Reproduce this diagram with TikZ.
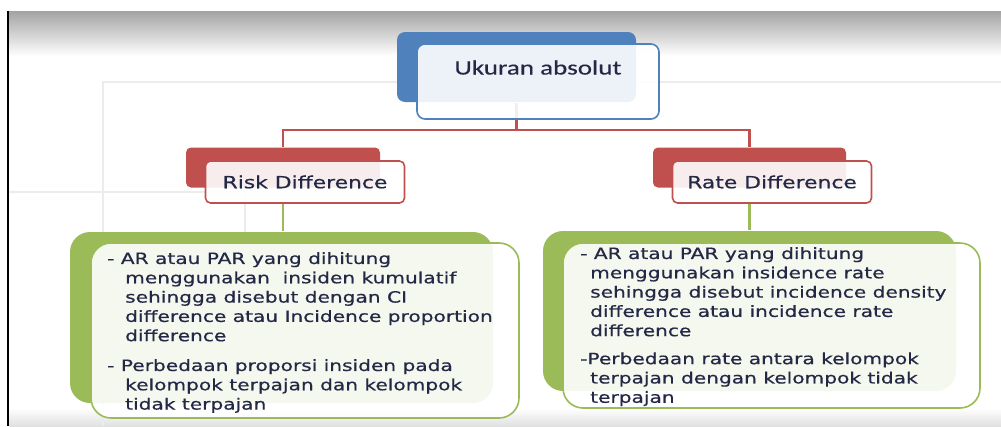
\documentclass[tikz,border=0pt]{standalone}
\usepackage{fontspec}
\newfontfamily\bodyfont[FakeStretch=1.3, FakeBold=0.5]{DejaVu Sans}
\newfontfamily\titlefont[FakeStretch=1.32, FakeBold=0.4]{Carlito}
\usepackage{xcolor}
\definecolor{oblue}{RGB}{79,129,189}
\definecolor{ored}{RGB}{192,80,77}
\definecolor{ogreen}{RGB}{155,187,89}
\definecolor{otext}{RGB}{35,40,70}
\definecolor{ogrid}{RGB}{236,236,236}
\usepackage{tikz}
\usetikzlibrary{positioning}

\newcommand{\hangL}{\hspace*{18pt}}
\newcommand{\hangR}{\hspace*{10pt}}

\begin{document}
\begin{tikzpicture}[x=1pt, y=-1pt,
    box/.style={inner sep=0pt, line width=1.6pt},
    backbox/.style={box, draw=none},
    frontbox/.style={box, fill=white, fill opacity=.9, text opacity=1},
    blueback/.style={backbox, fill=oblue, rounded corners=8pt},
    bluefront/.style={frontbox, draw=oblue, rounded corners=8pt, text=otext, font=\titlefont\fontsize{20.5}{24}\selectfont},
    redback/.style={backbox, fill=ored, rounded corners=5pt, minimum width=194pt, minimum height=40pt},
    redfront/.style={frontbox, draw=ored, rounded corners=5pt, minimum width=199pt, minimum height=42pt, text=otext, font=\bodyfont\fontsize{16.8}{20}\selectfont},
    greenback/.style={backbox, fill=ogreen, rounded corners=20pt},
    greenfront/.style={frontbox, draw=ogreen, rounded corners=20pt},
    notetext/.style={inner sep=0pt, anchor=north west, align=left, text=otext, font=\bodyfont\fontsize{15.5}{19.3}\selectfont},
    redlink/.style={draw=ored, line width=2.2pt},
    greenlink/.style={draw=ogreen, line width=2.6pt},
]
\useasboundingbox (0,0) rectangle (1001,426);
\fill[white] (0,0) rectangle (1001,426);

% screenshot frame and faint grid behind the chart
\fill[top color=black!36, bottom color=white, draw=none] (9,11) rectangle (1001,56);
\fill[top color=white, bottom color=black!12, draw=none] (9,408) rectangle (1001,426);
\draw[black, line width=2pt] (8,11) -- (8,426);
\draw[ogrid, line width=1.5pt] (103,426) -- (103,82) -- (1001,82);
\draw[ogrid, line width=1.5pt] (9,192) -- (245,192) -- (245,232);

% back boxes
\node[blueback, minimum width=239pt, minimum height=70pt] (titleBack) at (516.5,67) {};
\node[redback] (riskBack) at (283,167.5) {};
\node[redback, minimum width=193pt] (rateBack) at (749.5,167.5) {};
\node[greenback, minimum width=423pt, minimum height=171pt] (riskNoteBack) at (281.5,317.5) {};
\node[greenback, minimum width=413pt, minimum height=160pt] (rateNoteBack) at (749.5,311) {};

\coordinate (fork) at (516.5,130);
\draw[redlink] (titleBack.south) -- (fork) -| (riskBack.north);
\draw[redlink] (fork) -| (rateBack.north);

% front boxes
\node[bluefront, minimum width=242pt, text height=30.5pt, text depth=44.5pt, xshift=21.5pt, yshift=-14.5pt] (titleFront) at (titleBack.center) {Ukuran absolut};
\node[redfront, xshift=22pt, yshift=-14.5pt] (riskFront) at (riskBack.center) {Risk Difference};
\node[redfront, xshift=22.5pt, yshift=-14.5pt] (rateFront) at (rateBack.center) {Rate Difference};
\node[greenfront, minimum width=428pt, minimum height=175pt, xshift=23.5pt, yshift=-13pt] (riskNote) at (riskNoteBack.center) {};
\node[greenfront, minimum width=417pt, minimum height=165pt, xshift=22pt, yshift=-14.5pt] (rateNote) at (rateNoteBack.center) {};

\draw[greenlink] (riskBack |- riskFront.south) -- (riskBack |- riskNoteBack.north);
\draw[greenlink] (rateBack |- rateFront.south) -- (rateBack |- rateNoteBack.north);

% note texts
\node[notetext] (riskText) at (107,252) {- AR atau PAR yang dihitung\\
\hangL menggunakan\ \ insiden kumulatif\\
\hangL sehingga disebut dengan CI\\
\hangL difference atau Incidence proportion\\
\hangL difference\\[10.5pt]
- Perbedaan proporsi insiden pada\\
\hangL kelompok terpajan dan kelompok\\
\hangL tidak terpajan};
\node[notetext] (rateText) at (580,247) {- AR atau PAR yang dihitung\\
\hangR menggunakan insidence rate\\
\hangR sehingga disebut incidence density\\
\hangR difference atau incidence rate\\
\hangR difference\\[8.7pt]
-Perbedaan rate antara kelompok\\
\hangR terpajan dengan kelompok tidak\\
\hangR terpajan};

\end{tikzpicture}
\end{document}
